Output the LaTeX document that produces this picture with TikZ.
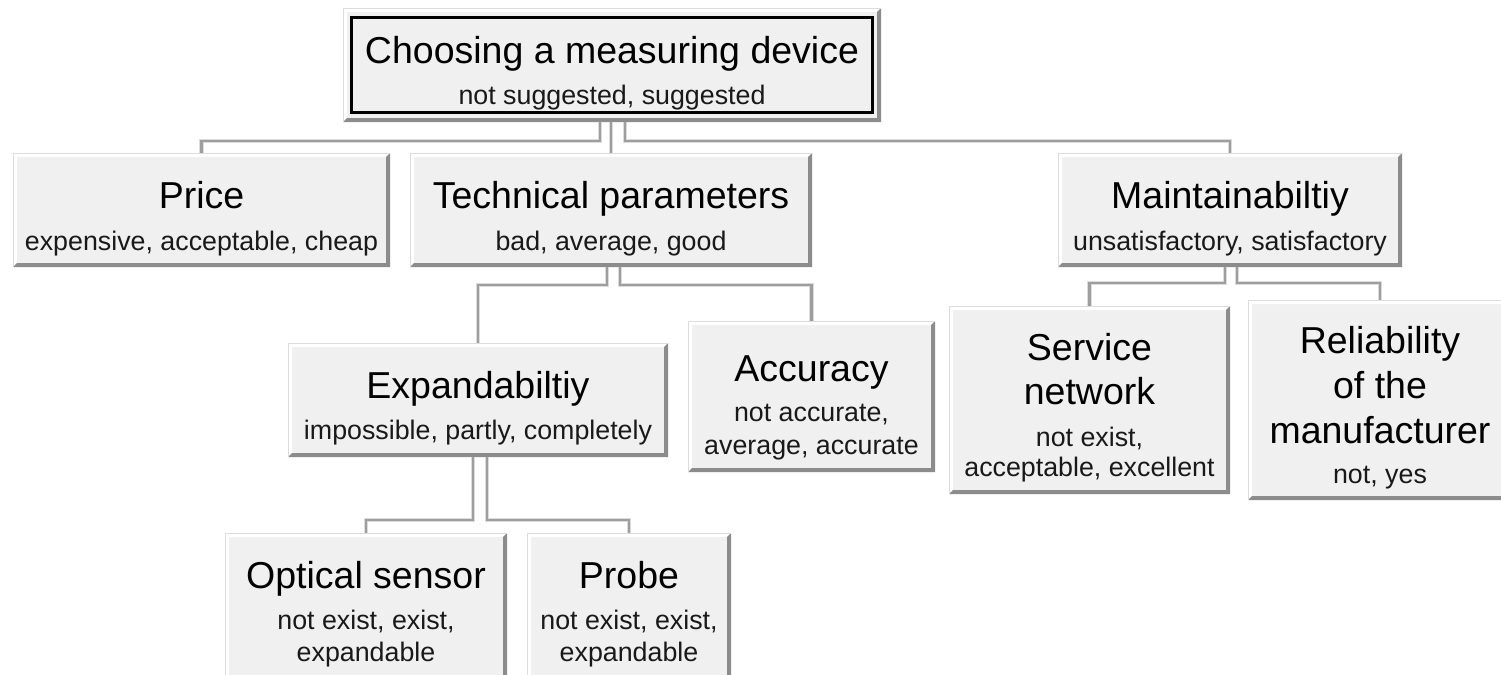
\documentclass[tikz,border=0pt]{standalone}
\usepackage{fontspec}
\setmainfont{Liberation Sans}
\usetikzlibrary{calc,fit}
\definecolor{boxfill}{HTML}{F0F0F0}
\definecolor{shadecol}{HTML}{8C8C8C}
\definecolor{rimcol}{HTML}{DCDCDC}
\definecolor{groove}{HTML}{9E9E9E}
\definecolor{groovelight}{HTML}{DCDCDC}
\tikzset{
  boxshape/.style={rectangle, draw=none, fill=boxfill, inner sep=0pt, outer sep=0pt},
  boxhi/.style={fill=white},
  boxshade/.style={fill=shadecol},
  boxrim/.style={draw=rimcol, line width=0.5pt},
  conn/.style={draw=groove, line width=1.1pt, preaction={draw=groovelight, line width=2.4pt}},
  ttext/.style={font=\fontsize{18.75}{22}\selectfont, anchor=base, inner sep=0pt, text=black},
  stext/.style={font=\fontsize{13.4}{16}\selectfont, anchor=base, inner sep=0pt, text=black!90},
}
\newcommand\bevbox[3]{%
  \node[boxshape, fit={#2 #3}] (#1) {};
  \fill[boxhi] (#1.south west) -- (#1.north west) -- (#1.north east)
     -- ($(#1.north east)+(-4,4)$) -- ($(#1.north west)+(4,4)$) -- ($(#1.south west)+(4,-4)$) -- cycle;
  \fill[boxshade] (#1.south west) -- (#1.south east) -- (#1.north east)
     -- ($(#1.north east)+(-4,4)$) -- ($(#1.south east)+(-4,-4)$) -- ($(#1.south west)+(4,-4)$) -- cycle;
  \draw[boxrim] (#1.south west) -- (#1.north west) -- (#1.north east);
}
\begin{document}
\begin{tikzpicture}[x=0.5pt, y=-0.5pt]
\useasboundingbox (0,0) rectangle (1501,675);
\clip (0,0) rectangle (1501,675);
\fill[white] (0,0) rectangle (1501,675);

% boxes
\bevbox{root}{(343,8)}{(881,122)}
\draw[black, line width=1.5pt] ($(root.north west)+(8.5,9)$) rectangle ($(root.south east)+(-8.5,-9.5)$);
\bevbox{price}{(13,153)}{(390,267)}
\bevbox{tech}{(410,153)}{(812,267)}
\bevbox{maint}{(1058,153)}{(1402,267)}
\bevbox{expand}{(288,343)}{(668,457)}
\bevbox{acc}{(688,321)}{(935,472)}
\bevbox{serv}{(949,306)}{(1230,494)}
\bevbox{rel}{(1248,300)}{(1512,500)}
\bevbox{opt}{(225,533)}{(507,690)}
\bevbox{probe}{(527,533)}{(731,690)}

% connectors
\draw[conn] ($(root.south)+(-12,0)$) -- ++(0,19) -| (price.north);
\draw[conn] (root.south -| tech.north) -- (tech.north);
\draw[conn] ($(root.south)+(13,0)$) -- ++(0,19) -| (maint.north);
\draw[conn] ($(tech.south)+(-4,0)$) -- ++(0,18) -| (expand.north);
\draw[conn] ($(tech.south)+(9,0)$) -- ++(0,18) -| (acc.north);
\draw[conn] ($(maint.south)+(-5,0)$) -- ++(0,16) -| (serv.north);
\draw[conn] ($(maint.south)+(7,0)$) -- ++(0,16) -| (rel.north);
\draw[conn] ($(expand.south)+(-5,0)$) -- ++(0,63) -| (opt.north);
\draw[conn] ($(expand.south)+(9,0)$) -- ++(0,63) -| (probe.north);

% texts
\node[ttext] (root-t) at (root.north |- 0,63) {Choosing a measuring device};
\node[stext] (root-s) at (root.north |- 0,104) {not suggested, suggested};

\node[ttext] (price-t) at (price.north |- 0,208) {Price};
\node[stext] (price-s) at (price.north |- 0,250) {expensive, acceptable, cheap};

\node[ttext] (tech-t) at (tech.north |- 0,208) {Technical parameters};
\node[stext] (tech-s) at (tech.north |- 0,250) {bad, average, good};

\node[ttext] (maint-t) at (maint.north |- 0,208) {Maintainabiltiy};
\node[stext] (maint-s) at (maint.north |- 0,250) {unsatisfactory, satisfactory};

\node[ttext] (expand-t) at (expand.north |- 0,398) {Expandabiltiy};
\node[stext] (expand-s) at (expand.north |- 0,439) {impossible, partly, completely};

\node[ttext] (acc-t) at (acc.north |- 0,381) {Accuracy};
\node[stext] (acc-s1) at (acc.north |- 0,421) {not accurate,};
\node[stext] (acc-s2) at (acc.north |- 0,454) {average, accurate};

\node[ttext] (serv-t1) at (serv.north |- 0,360) {Service};
\node[ttext] (serv-t2) at (serv.north |- 0,404) {network};
\node[stext] (serv-s1) at (serv.north |- 0,446) {not exist,};
\node[stext] (serv-s2) at (serv.north |- 0,476) {acceptable, excellent};

\node[ttext] (rel-t1) at (rel.north |- 0,353) {Reliability};
\node[ttext] (rel-t2) at (rel.north |- 0,398) {of the};
\node[ttext] (rel-t3) at (rel.north |- 0,443) {manufacturer};
\node[stext] (rel-s) at (rel.north |- 0,483) {not, yes};

\node[ttext] (opt-t) at (opt.north |- 0,588) {Optical sensor};
\node[stext] (opt-s1) at (opt.north |- 0,629) {not exist, exist,};
\node[stext] (opt-s2) at (opt.north |- 0,661) {expandable};

\node[ttext] (probe-t) at (probe.north |- 0,588) {Probe};
\node[stext] (probe-s1) at (probe.north |- 0,629) {not exist, exist,};
\node[stext] (probe-s2) at (probe.north |- 0,661) {expandable};
\end{tikzpicture}
\end{document}
